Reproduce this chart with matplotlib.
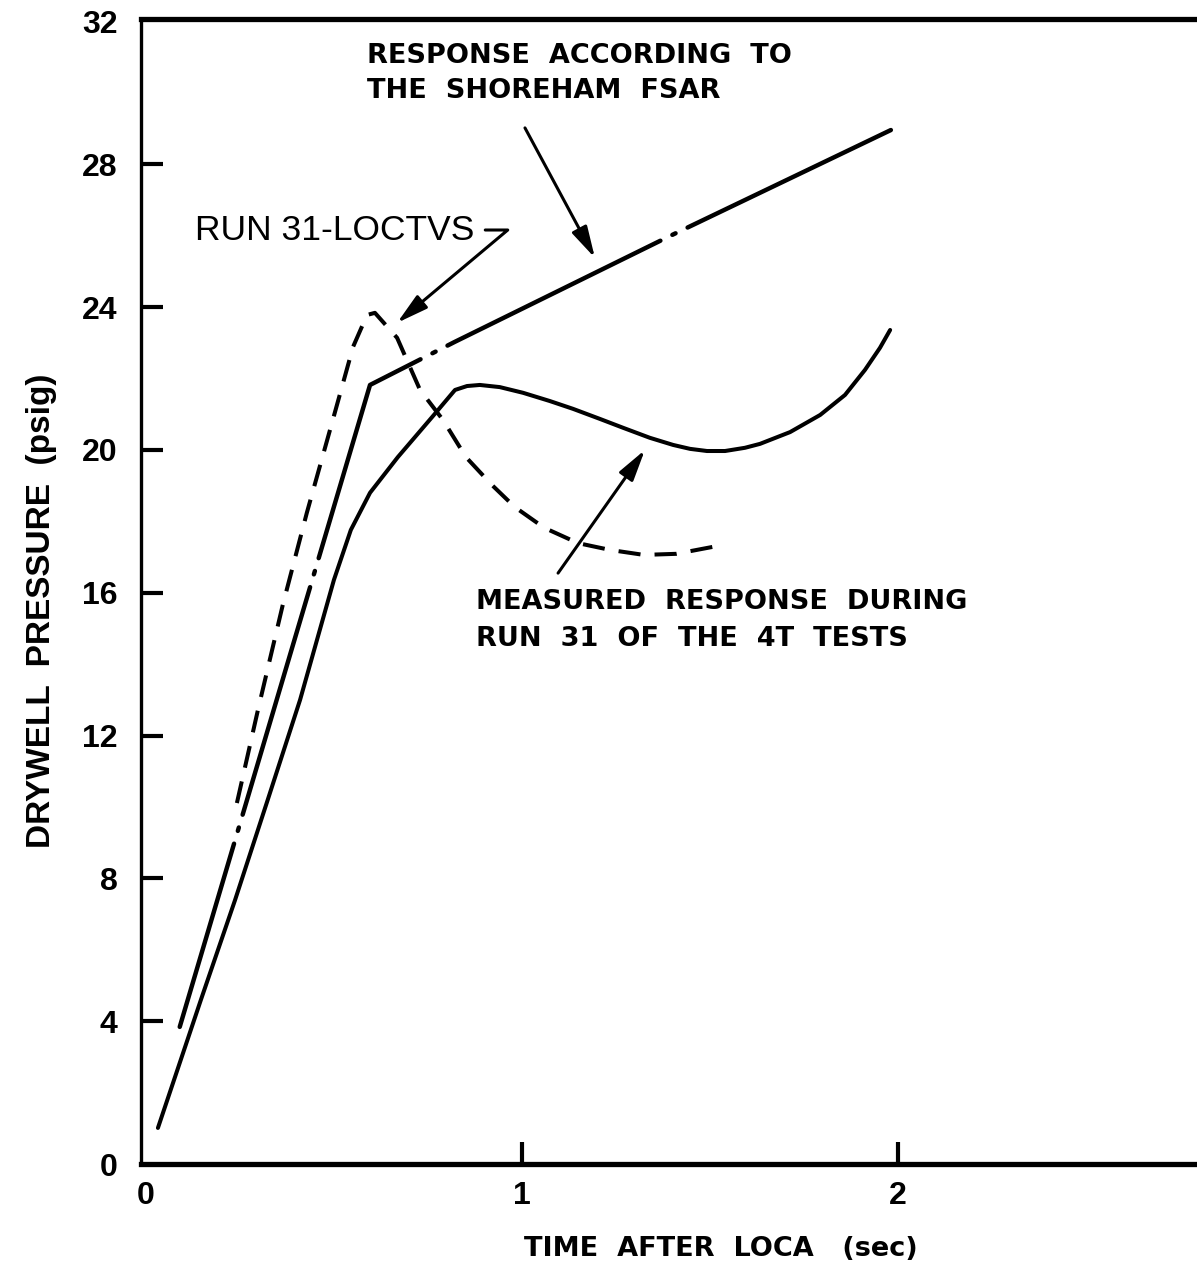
import numpy as np
import matplotlib
matplotlib.use("Agg")
import matplotlib.pyplot as plt

# measured drywell pressure, run 31 of the 4T tests (solid)
t_meas = [0.032, 0.146, 0.237, 0.324, 0.410, 0.455, 0.500, 0.545, 0.596, 0.670,
          0.761, 0.822, 0.854, 0.888, 0.941, 1.003, 1.074, 1.136, 1.207, 1.269,
          1.340, 1.402, 1.447, 1.492, 1.540, 1.593, 1.633, 1.713, 1.793, 1.859,
          1.912, 1.952, 1.979]
p_meas = [1.01, 4.59, 7.39, 10.20, 13.00, 14.68, 16.36, 17.76, 18.80, 19.80,
          20.92, 21.68, 21.79, 21.82, 21.76, 21.60, 21.37, 21.15, 20.87, 20.62,
          20.34, 20.14, 20.03, 19.97, 19.97, 20.06, 20.17, 20.50, 20.98, 21.54,
          22.24, 22.86, 23.36]

# Shoreham FSAR response (dash-dot)
t_fsar = [0.090, 0.596, 0.822, 1.399, 1.981]
p_fsar = [3.84, 21.82, 23.03, 26.02, 28.96]

# LOCTVS prediction for run 31 (dashed)
t_loc = [0.242, 0.298, 0.364, 0.428, 0.497, 0.551, 0.588, 0.609, 0.668, 0.729,
         0.790, 0.851, 0.920, 0.981, 1.059, 1.149, 1.234, 1.324, 1.410, 1.505,
         1.535]
p_loc = [10.11, 12.72, 15.66, 18.24, 20.84, 22.89, 23.78, 23.84, 23.14, 21.68,
         20.84, 19.80, 19.02, 18.40, 17.82, 17.39, 17.20, 17.06, 17.09, 17.28,
         17.34]

x_ticks = [0, 1, 2]
y_ticks = [0, 4, 8, 12, 16, 20, 24, 28, 32]

W, H = 1197, 1271
fig = plt.figure(figsize=(W / 100, H / 100), dpi=100)
ax = fig.add_axes([141 / W, (H - 1164) / H, 1 - 141 / W, (1164 - 19) / H])
ax.set_xlim(-0.013, 2.795)
ax.set_ylim(0, 32.07)

ink = "black"
lw = 2.9
ax.plot(t_meas, p_meas, color=ink, lw=lw, solid_capstyle="round",
        solid_joinstyle="round")
ax.plot(t_fsar, p_fsar, color=ink, lw=3.2, dash_capstyle="round",
        linestyle=(10.4, (53.4, 3.0, 0.8, 3.0)))
ax.plot(t_loc, p_loc, color=ink, lw=lw, dash_capstyle="butt",
        linestyle=(0, (5.5, 3.5)))

ax.spines["left"].set_linewidth(2.4)
for side in ["top", "bottom"]:
    ax.spines[side].set_linewidth(3.8)
ax.spines["right"].set_visible(False)

tick_font = dict(family="Liberation Sans", weight="bold", size=23)
ax.set_xticks(x_ticks)
ax.set_yticks(y_ticks)
ax.set_xticklabels([str(v) for v in x_ticks], **tick_font)
ax.set_yticklabels([str(v) for v in y_ticks], **tick_font)
ax.tick_params(axis="y", direction="in", length=16, width=3, pad=17)
ax.tick_params(axis="x", direction="in", length=16, width=3, pad=12)
# ticks sitting on the frame corners are not drawn
ax.xaxis.get_major_ticks()[0].tick1line.set_visible(False)
ax.yaxis.get_major_ticks()[0].tick1line.set_visible(False)
ax.yaxis.get_major_ticks()[-1].tick1line.set_visible(False)

ax.set_xlabel("TIME  AFTER  LOCA   (sec)", family="DejaVu Sans", weight="bold",
              size=19.5)
ax.xaxis.set_label_coords(0.549, -0.063)
ax.set_ylabel("DRYWELL  PRESSURE  (psig)", family="Liberation Sans",
              weight="bold", size=24)
ax.yaxis.set_label_coords(-0.0795, 0.483)

note_font = dict(family="DejaVu Sans", weight="bold", size=19.5)
ax.text(0.588, 31.4, "RESPONSE  ACCORDING  TO\nTHE  SHOREHAM  FSAR", ha="left",
        va="top", linespacing=1.45, **note_font)
ax.text(0.878, 16.1, "MEASURED  RESPONSE  DURING\nRUN  31  OF  THE  4T  TESTS",
        ha="left", va="top", linespacing=1.55, **note_font)

head = dict(arrowstyle="-|>,head_length=0.95,head_width=0.25", color=ink,
            lw=2.2, mutation_scale=20, shrinkA=0, shrinkB=0)
ax.annotate("", xy=(1.194, 25.38), xytext=(1.008, 29.02), arrowprops=head)
ax.annotate("", xy=(1.327, 20.0), xytext=(1.096, 16.55), arrowprops=head)
ax.annotate("RUN 31-LOCTVS", xy=(0.668, 23.56), xytext=(0.13, 26.16),
            ha="left", va="center", family="Liberation Sans", size=25.5,
            arrowprops=dict(head, relpos=(1, 0.5), shrinkA=6,
                            connectionstyle="angle,angleA=0,angleB=40,rad=0"))

fig.savefig("out.png", dpi=100)
